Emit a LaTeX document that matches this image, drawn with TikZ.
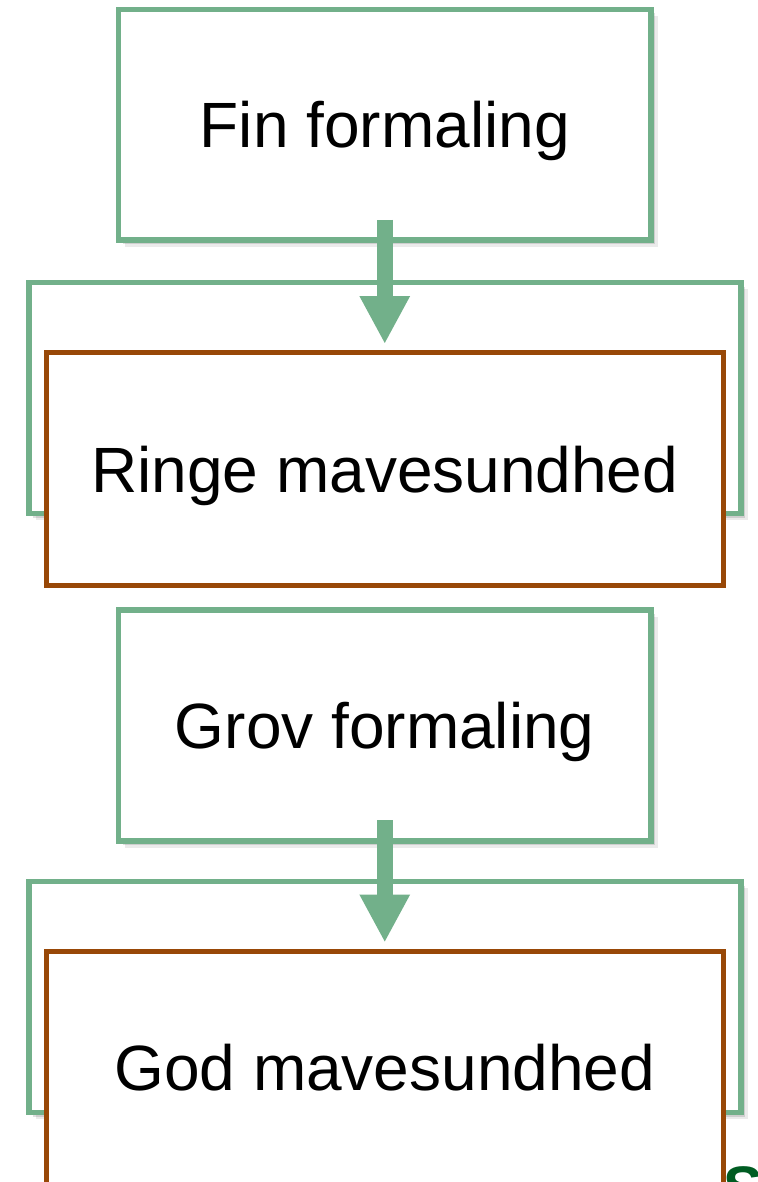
\documentclass[tikz,border=0pt]{standalone}
\usepackage{fontspec}
\setmainfont{Liberation Sans}
\usetikzlibrary{arrows.meta,shadows}
\definecolor{boxgreen}{RGB}{114,176,138}
\definecolor{boxbrown}{RGB}{152,72,7}
\definecolor{darkgreen}{RGB}{0,92,34}
\tikzset{
  softshadow/.style={
    preaction={fill=black,opacity=0.14,transform canvas={shift={(2pt,-2pt)}}},
    preaction={fill=black,opacity=0.12,transform canvas={shift={(4pt,-4pt)}}},
    preaction={fill=black,opacity=0.08,transform canvas={shift={(6.5pt,-6.5pt)}}}
  },
  greenbox/.style={draw=boxgreen,line width=5.5pt,fill=white,softshadow,
    inner sep=0pt,outer sep=0pt,align=center,text depth=0pt,
    font=\fontsize{64}{72}\selectfont},
  brownbox/.style={draw=boxbrown,line width=5pt,fill=white,
    inner sep=0pt,outer sep=0pt,align=center,text depth=0pt,
    font=\fontsize{64}{72}\selectfont},
  blockarrow/.style={draw=boxgreen,line width=16pt,
    -{Triangle[width=47pt,length=48pt]}}
}
\begin{document}
\begin{tikzpicture}[x=1pt,y=-1pt]
\useasboundingbox (0,0) rectangle (757,1182);
% first pair
\node[greenbox,minimum width=532.5pt,minimum height=230.5pt] (fin) at (384.75,124.75) {Fin formaling};
\node[greenbox,minimum width=712pt,minimum height=231pt] (back1) at (385,398) {};
\node[brownbox,minimum width=676.5pt,minimum height=233pt] (ringe) at (384.75,469) {Ringe mavesundhed};
\draw[blockarrow] ([yshift=20pt]fin.south) -- ([yshift=8.5pt]ringe.north);
% second pair
\node[greenbox,minimum width=532.5pt,minimum height=231pt] (grov) at (384.75,725.5) {Grov formaling};
\node[greenbox,minimum width=712pt,minimum height=231pt] (back2) at (385,997) {};
\node[brownbox,minimum width=676.5pt,minimum height=233pt] (god) at (384.75,1067.5) {God mavesundhed};
\draw[blockarrow] ([yshift=21pt]grov.south) -- ([yshift=8.5pt]god.north);
% partial glyph at bottom right
\node[anchor=north west,inner sep=0pt,text=darkgreen,font=\bfseries\fontsize{60}{70}\selectfont] (glyph) at (723,1166) {S};
\end{tikzpicture}
\end{document}
